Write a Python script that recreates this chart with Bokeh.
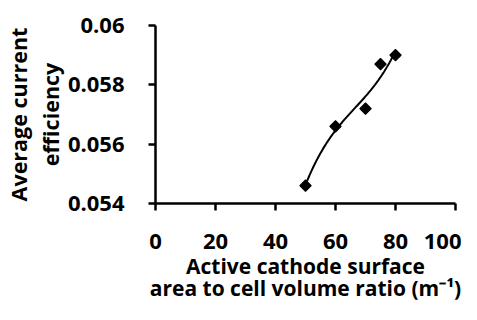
import numpy as np
from bokeh.plotting import figure
from bokeh.models import Range1d, FixedTicker, NumeralTickFormatter
from bokeh.embed import file_html
from bokeh.resources import INLINE

ratio = [50, 60, 70, 75, 80]
efficiency = [0.0546, 0.0566, 0.0572, 0.0587, 0.0590]
x_ticks = [0, 20, 40, 60, 80, 100]
y_ticks = [0.054, 0.056, 0.058, 0.06]
x_title = "Active cathode surface\narea to cell volume ratio (m\u207b\u00b9)"
y_title = "Average current\nefficiency"

# cubic trendline fitted to the data
coef = np.polyfit(ratio, efficiency, 3)
xs = np.linspace(min(ratio), max(ratio), 200)
ys = np.polyval(coef, xs)

FONT = "Open Sans"

p = figure(width=461, height=304, output_backend="svg", toolbar_location=None,
           x_range=Range1d(0, 100), y_range=Range1d(0.054, 0.06),
           min_border_left=155, min_border_right=6, min_border_top=25, min_border_bottom=100)
p.outline_line_color = None
p.xgrid.visible = False
p.ygrid.visible = False
p.background_fill_color = "white"
p.border_fill_color = "white"

p.line(xs, ys, line_color="black", line_width=2)
p.scatter(ratio, efficiency, marker="square", angle=np.pi / 4, size=8,
          fill_color="black", line_color="black", line_width=1.2)

for ax in (p.xaxis[0], p.yaxis[0]):
    ax.axis_line_width = 2.5
    ax.axis_line_color = "black"
    ax.major_tick_line_width = 2.5
    ax.major_tick_line_color = "black"
    ax.major_tick_in = 0
    ax.major_tick_out = 7
    ax.minor_tick_line_color = None
    ax.major_label_text_font = FONT
    ax.major_label_text_font_style = "bold"
    ax.major_label_text_font_size = "22px"
    ax.major_label_text_color = "black"
    ax.axis_label_text_font = FONT
    ax.axis_label_text_font_style = "bold"
    ax.axis_label_text_color = "black"

p.xaxis.ticker = FixedTicker(ticks=x_ticks)
p.yaxis.ticker = FixedTicker(ticks=y_ticks)
p.yaxis.formatter = NumeralTickFormatter(format="0.[000]")
p.xaxis.major_label_standoff = 23
p.yaxis.major_label_standoff = 24

p.xaxis.axis_label = x_title
p.yaxis.axis_label = y_title
p.xaxis.axis_label_text_font_size = "21px"
p.yaxis.axis_label_text_font_size = "21.5px"
p.xaxis.axis_label_text_line_height = 0.8
p.yaxis.axis_label_text_line_height = 1.1
p.xaxis.axis_label_standoff = 0
p.yaxis.axis_label_standoff = 0

open("out.html", "w").write(file_html(p, INLINE))
